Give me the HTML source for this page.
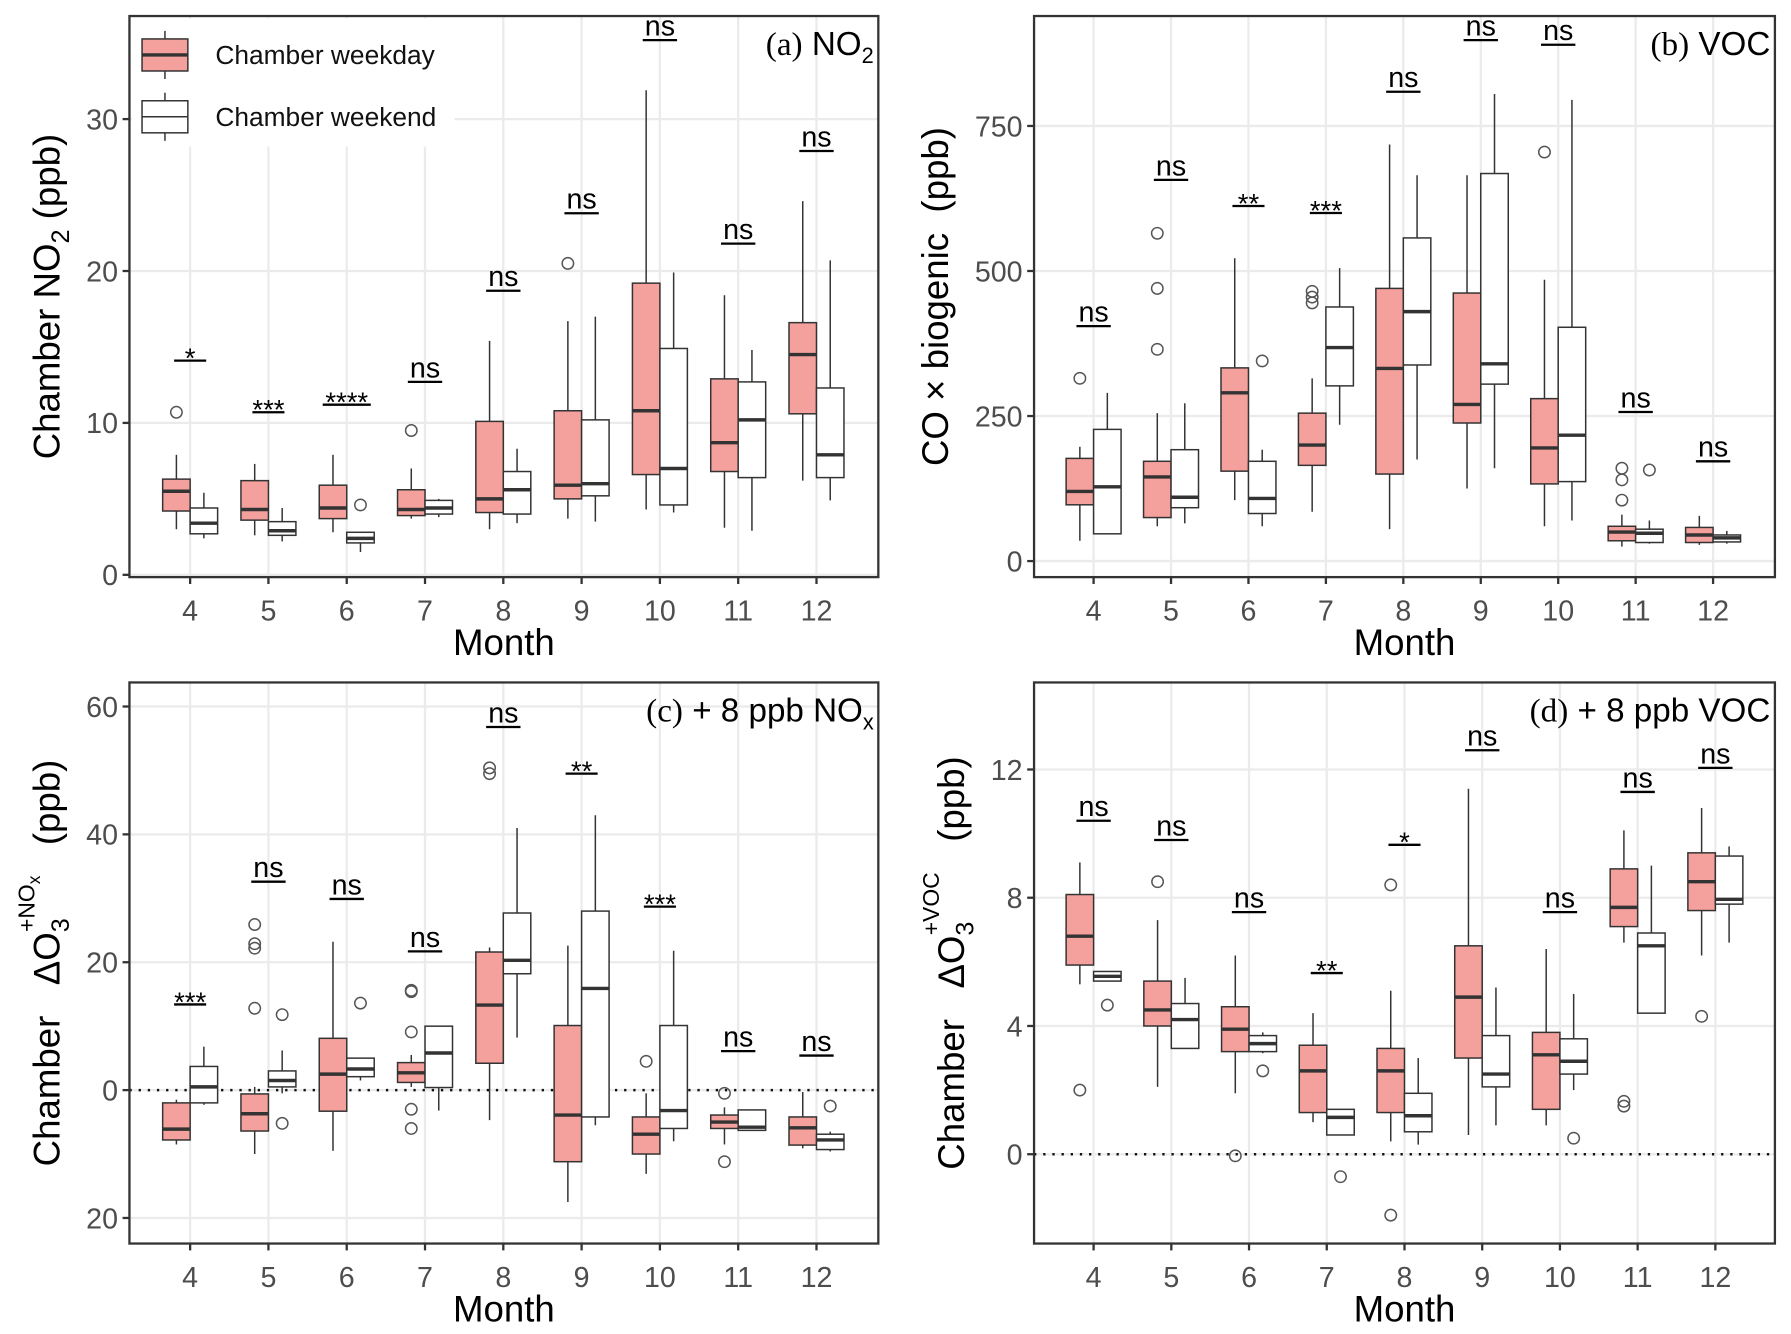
<!DOCTYPE html>
<html><head><meta charset="utf-8"><style>
html,body{margin:0;padding:0;background:#fff}
svg{display:block}
text{font-family:"Liberation Sans",sans-serif}
.pre{white-space:pre}
</style></head><body>
<svg id="fig" width="1791" height="1334" viewBox="0 0 1564 1165" xmlns="http://www.w3.org/2000/svg"></svg>
<script>
const months=[4,5,6,7,8,9,10,11,12];
// Panel a: NO2 [lo,q1,med,q3,hi]
const aWeekday=[[3.0,4.2,5.5,6.3,7.9],[2.6,3.6,4.3,6.2,7.3],[2.8,3.7,4.4,5.9,7.9],[3.7,3.9,4.3,5.6,7.0],[3.0,4.1,5.0,10.1,15.4],[3.7,5.0,5.9,10.8,16.7],[4.3,6.6,10.8,19.2,31.9],[3.1,6.8,8.7,12.9,18.4],[6.2,10.6,14.5,16.6,24.6]];
const aWeekend=[[2.4,2.7,3.4,4.4,5.4],[2.2,2.6,2.9,3.5,4.4],[1.5,2.1,2.4,2.8,2.8],[3.8,4.0,4.4,4.9,5.0],[3.4,4.0,5.6,6.8,8.3],[3.5,5.2,6.0,10.2,17.0],[4.1,4.6,7.0,14.9,19.9],[2.9,6.4,10.2,12.7,14.8],[4.9,6.4,7.9,12.3,20.7]];
const aOutWd=[[10.7],[],[],[9.5],[],[20.5],[],[],[]];
const aOutWe=[[],[],[4.6],[],[],[],[],[],[]];
const aSig=["*","***","****","ns","ns","ns","ns","ns","ns"];
const aSigY=[14.1,10.7,11.2,12.7,18.7,23.8,35.2,21.8,27.9];
const aTicks=[0,10,20,30];
// Panel b: VOC
const bWeekday=[[35,97,120,177,197],[60,75,145,172,255],[105,155,290,333,522],[85,165,200,255,315],[55,150,332,470,718],[125,238,270,462,665],[60,133,195,280,485],[25,35,50,60,80],[28,32,45,58,78]];
const bWeekend=[[47,47,128,227,290],[65,92,110,192,272],[60,82,108,172,192],[235,302,368,438,505],[175,338,430,557,665],[160,305,340,668,805],[70,137,217,403,795],[30,32,48,55,70],[30,33,40,45,52]];
const bOutWd=[[315],[365,470,565],[],[445,455,465],[],[],[705],[105,140,160],[]];
const bOutWe=[[],[],[345],[],[],[],[],[157],[]];
const bSig=["ns","ns","**","***","ns","ns","ns","ns","ns"];
const bSigY=[405,657,612,600,809,898,890,257,172];
const bTicks=[0,250,500,750];
// Panel c: dO3 +NOx
const cWeekday=[[-8.5,-7.8,-6.1,-2,-1.5],[-10,-6.4,-3.7,-0.6,0.5],[-9.5,-3.3,2.5,8.1,23.2],[0.5,1.2,2.7,4.3,5.5],[-4.7,4.2,13.3,21.6,22.3],[-17.5,-11.2,-3.9,10.1,22.6],[-13.1,-10,-6.9,-4.2,-0.5],[-8.5,-6,-5,-3.9,-2.7],[-9.1,-8.6,-5.9,-4.2,-0.3]];
const cWeekend=[[-2.3,-2,0.5,3.7,6.8],[-0.5,0.5,1.5,3,6.2],[1.5,2.1,3.3,5.0,5.0],[-3.2,0.4,5.8,10,10],[8.2,18.2,20.3,27.7,41],[-5.5,-4.2,15.9,28,43],[-8,-6,-3.2,10.1,21.8],[-6.3,-6.3,-5.8,-3.1,-3.1],[-9.6,-9.3,-7.8,-6.9,-6.5]];
const cOutWd=[[],[12.8,22.2,22.9,25.9],[],[15.4,15.6,9.1,-3,-6],[49.5,50.4],[],[4.5],[-0.5,-11.2],[]];
const cOutWe=[[],[11.8,-5.2],[13.6],[],[],[],[],[],[-2.5]];
const cSig=["***","ns","ns","ns","ns","**","***","ns","ns"];
const cSigY=[13.4,32.6,29.9,21.7,56.8,49.5,28.7,6.1,5.4];
const cTicks=[-20,0,20,40,60];
const cTickLabels=["20","0","20","40","60"];
// Panel d: dO3 +VOC
const dWeekday=[[5.3,5.9,6.8,8.1,9.1],[2.1,4.0,4.5,5.4,7.3],[1.9,3.2,3.9,4.6,6.2],[1.0,1.3,2.6,3.4,4.4],[0.4,1.3,2.6,3.3,5.1],[0.6,3.0,4.9,6.5,11.4],[0.9,1.4,3.1,3.8,6.4],[6.6,7.1,7.7,8.9,10.1],[6.2,7.6,8.5,9.4,10.8]];
const dWeekend=[[5.4,5.4,5.55,5.7,5.7],[3.3,3.3,4.2,4.7,5.5],[3.15,3.2,3.45,3.7,3.8],[0.6,0.6,1.15,1.4,1.4],[0.3,0.7,1.2,1.9,3.0],[0.9,2.1,2.5,3.7,5.2],[2.0,2.5,2.9,3.6,5.0],[4.4,4.4,6.5,6.9,9.0],[6.6,7.8,7.95,9.3,9.6]];
const dOutWd=[[2.0],[8.5],[-0.05],[],[8.4,-1.9],[],[],[1.5,1.65],[4.3]];
const dOutWe=[[4.65],[],[2.6],[-0.7],[],[],[0.5],[],[]];
const dSig=["ns","ns","ns","**","*","ns","ns","ns","ns"];
const dSigY=[10.4,9.8,7.55,5.65,9.65,12.6,7.55,11.3,12.05];
const dTicks=[0,4,8,12];

const NS="http://www.w3.org/2000/svg";
const svg=document.getElementById('fig');
function mk(tag,attrs,parent,txt){const e=document.createElementNS(NS,tag);for(const k in attrs)e.setAttribute(k,attrs[k]);if(txt!==undefined)e.textContent=txt;(parent||svg).appendChild(e);return e;}

function panel(cfg){
  const g=mk('g',{});
  
  
  const L=cfg.L,R=cfg.R,T=cfg.T,B=cfg.B;
  const ys=v=>cfg.y0+(v-cfg.v0)*(cfg.y1-cfg.y0)/(cfg.v1-cfg.v0);
  const xs=i=>cfg.x4+i*(cfg.x12-cfg.x4)/8;
  mk('rect',{x:L,y:T,width:R-L,height:B-T,fill:'#fff'},g);
  cfg.ticks.forEach(t=>{const l=mk('line',{x1:L,x2:R,y1:ys(t),y2:ys(t),stroke:'#ebebeb','stroke-width':2},g);});
  months.forEach((m,i)=>{const l=mk('line',{x1:xs(i),x2:xs(i),y1:T,y2:B,stroke:'#ebebeb','stroke-width':2},g);});
  if(cfg.zero){const z=mk('line',{x1:L,x2:R,y1:ys(0),y2:ys(0),stroke:'#111','stroke-width':2.2,'stroke-dasharray':'2,6'},g);}
  if(cfg.legend){
    const lg=mk('g',{},g);
    mk('rect',{x:L+2,y:T+2,width:282,height:112,fill:'#fff'},lg);
    [['#f4a09c','Chamber weekday',48],['#fff','Chamber weekend',102]].forEach(([f,t,cy])=>{
      const e=mk('g',{},lg);
      mk('line',{x1:144,x2:144,y1:cy-21,y2:cy+21,stroke:'#333','stroke-width':1.3},e);
      mk('rect',{x:124,y:cy-14,width:40,height:28,fill:f,stroke:'#333','stroke-width':1.3},e);
      mk('line',{x1:124,x2:164,y1:cy,y2:cy,stroke:'#333','stroke-width':f==='#fff'?1.3:3},e);
      mk('text',{x:188,y:cy+8,'font-size':23,fill:'#111'},e,t);
    });
  }
  function box(st,cx,fill,outs,nm){
    const bg=mk('g',{},g);
    const w=24;
    mk('line',{x1:cx,x2:cx,y1:ys(st[0]),y2:ys(st[4]),stroke:'#333','stroke-width':1.3},bg);
    mk('rect',{x:cx-w/2,y:ys(st[3]),width:w,height:Math.max(1,ys(st[1])-ys(st[3])),fill:fill,stroke:'#333','stroke-width':1.3},bg);
    mk('line',{x1:cx-w/2,x2:cx+w/2,y1:ys(st[2]),y2:ys(st[2]),stroke:'#333','stroke-width':3},bg);
    outs.forEach(o=>{const c=mk('circle',{cx:cx,cy:ys(o),r:5,fill:'none',stroke:'#555','stroke-width':1.3},bg);});
  }
  months.forEach((m,i)=>{
    box(cfg.wd[i],xs(i)-12,'#f4a09c',cfg.owd[i],'weekday-box-m'+m);
    box(cfg.we[i],xs(i)+12,'#fff',cfg.owe[i],'weekend-box-m'+m);
    const s=cfg.sig[i],sy=ys(cfg.sigY[i]);
    const sg=mk('g',{},g);
    const hw=s==='****'?21:(s==='ns'?15:14);
    mk('line',{x1:xs(i)-hw,x2:xs(i)+hw,y1:sy,y2:sy,stroke:'#000','stroke-width':2},sg);
    mk('text',{x:xs(i),y:s==='ns'?sy-4:sy+6,'text-anchor':'middle','font-size':s==='ns'?25:24,fill:'#000'},sg,s);
  });
  const br=mk('rect',{x:L,y:T,width:R-L,height:B-T,fill:'none',stroke:'#333','stroke-width':2},g);
  
  cfg.ticks.forEach((t,k)=>{
    mk('line',{x1:L-6,x2:L,y1:ys(t),y2:ys(t),stroke:'#333','stroke-width':2},g);
    const tl=mk('text',{x:L-10,y:ys(t)+9,'text-anchor':'end','font-size':25,fill:'#4d4d4d'},g,cfg.tickLabels?cfg.tickLabels[k]:String(t));
    
  });
  months.forEach((m,i)=>{
    mk('line',{x1:xs(i),x2:xs(i),y1:B,y2:B+6,stroke:'#333','stroke-width':2},g);
    const tl=mk('text',{x:xs(i),y:B+38,'text-anchor':'middle','font-size':25,fill:'#4d4d4d'},g,String(m));
    
  });
  const xt=mk('text',{x:(L+R)/2,y:B+68,'text-anchor':'middle','font-size':32,fill:'#000'},g,'Month');
  
  const yt=mk('text',{class:'pre',transform:`translate(${cfg.ytx},${(T+B)/2}) rotate(-90)`,'text-anchor':'middle','font-size':cfg.ytfs||32,fill:'#000'},g);
  
  yt.innerHTML=cfg.ytitle;
  const tt=mk('text',{x:R-4,y:T+34,'text-anchor':'end','font-size':29,fill:'#000'},g);
  
  tt.innerHTML=cfg.title;
}
panel({name:'panel-a-no2',L:113,R:767,T:14,B:504,y0:502,v0:0,y1:104,v1:30,x4:166,x12:713,ticks:aTicks,wd:aWeekday,we:aWeekend,owd:aOutWd,owe:aOutWe,sig:aSig,sigY:aSigY,legend:true,ytx:52,
 ytitle:'Chamber NO<tspan font-size="22" dy="8">2</tspan><tspan dy="-8"> (ppb)</tspan>',
 title:'<tspan font-family="Liberation Serif">(a)</tspan> NO<tspan font-size="19" dy="7">2</tspan>'});
panel({name:'panel-b-voc',L:903,R:1550,T:14,B:504,y0:490,v0:0,y1:110,v1:750,x4:955,x12:1496,ticks:bTicks,wd:bWeekday,we:bWeekend,owd:bOutWd,owe:bOutWe,sig:bSig,sigY:bSigY,ytx:828,ytfs:32,
 ytitle:'CO × biogenic  (ppb)',
 title:'<tspan font-family="Liberation Serif">(b)</tspan> VOC'});
panel({name:'panel-c-nox',L:113,R:767,T:596,B:1086,y0:952,v0:0,y1:617,v1:60,x4:166,x12:713,ticks:cTicks,tickLabels:cTickLabels,wd:cWeekday,we:cWeekend,owd:cOutWd,owe:cOutWe,sig:cSig,sigY:cSigY,zero:true,ytx:52,
 ytitle:'Chamber   ΔO<tspan font-size="22" dy="8">3</tspan><tspan font-size="20" dx="-12" dy="-30">+NO</tspan><tspan font-size="15" dy="5">x</tspan><tspan dy="17">   (ppb)</tspan>',
 title:'<tspan font-family="Liberation Serif">(c)</tspan> + 8 ppb NO<tspan font-size="19" dy="7">x</tspan>'});
panel({name:'panel-d-voc',L:903,R:1550,T:596,B:1086,y0:1008,v0:0,y1:672,v1:12,x4:955,x12:1498,ticks:dTicks,wd:dWeekday,we:dWeekend,owd:dOutWd,owe:dOutWe,sig:dSig,sigY:dSigY,zero:true,ytx:842,
 ytitle:'Chamber   ΔO<tspan font-size="22" dy="8">3</tspan><tspan font-size="20" dx="-12" dy="-30">+VOC</tspan><tspan dy="22">   (ppb)</tspan>',
 title:'<tspan font-family="Liberation Serif">(d)</tspan> + 8 ppb VOC'});
</script>
</body></html>
